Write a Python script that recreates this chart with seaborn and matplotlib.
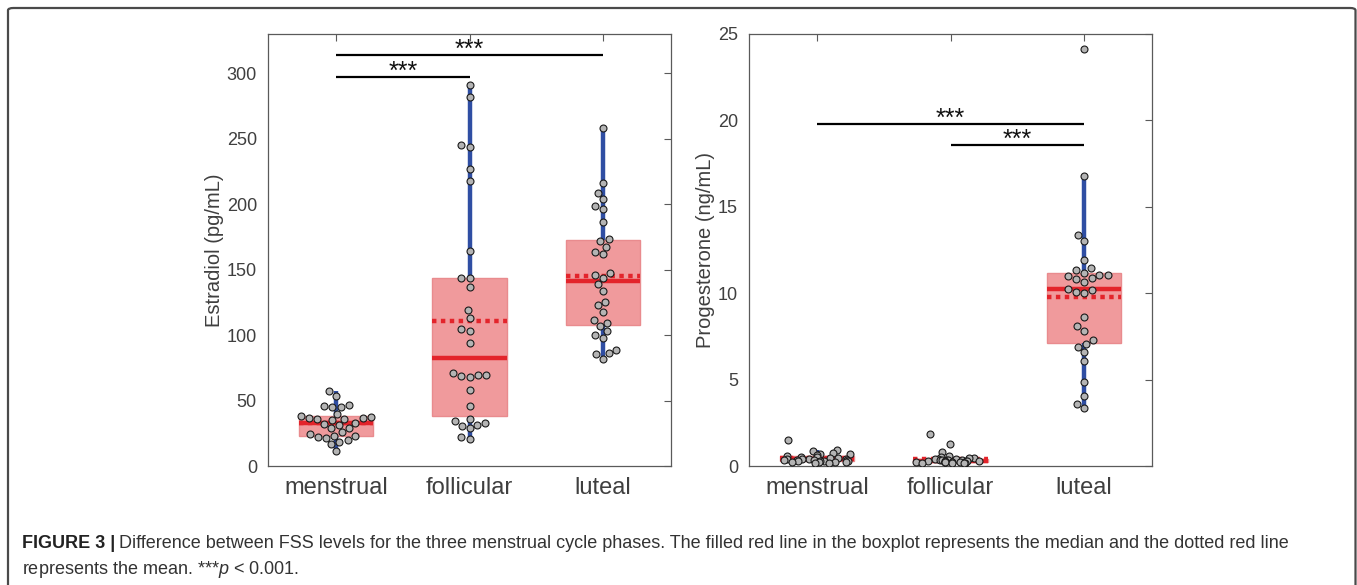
import numpy as np
import pandas as pd
import matplotlib
matplotlib.use('Agg')
import matplotlib.pyplot as plt
import seaborn as sns
from matplotlib.patches import FancyBboxPatch

phases = ['menstrual', 'follicular', 'luteal']

# estradiol (pg/mL)
estr_menstrual = [57.4, 53.6, 46.7, 46.2, 45.2, 44.9, 39.8, 38.1, 37.8, 36.5, 36.5, 36.0, 35.8, 34.8,
                  33.2, 31.8, 31.2, 29.4, 28.7, 25.6, 24.6, 23.3, 23.1, 22.1, 21.3, 20.0, 18.2, 16.5, 11.4]
estr_follicular = [291.3, 282.2, 244.9, 243.8, 226.8, 217.7, 164.3, 143.5, 143.5, 136.6, 118.8, 112.7,
                   104.6, 103.1, 93.7, 71.1, 69.9, 69.3, 68.8, 67.8, 57.9, 46.2, 35.8, 34.3, 32.5,
                   31.7, 30.9, 28.7, 22.1, 20.8]
estr_luteal = [258.3, 216.1, 208.5, 203.7, 198.9, 196.3, 186.7, 173.2, 172.2, 167.6, 163.6, 161.8,
               147.6, 145.8, 143.8, 138.7, 133.6, 125.2, 122.7, 117.9, 111.5, 109.5, 106.7, 103.3,
               99.8, 97.8, 88.6, 86.3, 85.3, 81.7]

# progesterone (ng/mL)
prog_menstrual = [1.50, 0.95, 0.85, 0.75, 0.70, 0.68, 0.62, 0.58, 0.55, 0.50, 0.48, 0.45, 0.42, 0.40,
                  0.40, 0.38, 0.36, 0.35, 0.33, 0.32, 0.30, 0.30, 0.28, 0.27, 0.25, 0.25, 0.23, 0.22,
                  0.20, 0.20]
prog_follicular = [1.83, 1.29, 0.81, 0.58, 0.52, 0.48, 0.45, 0.42, 0.40, 0.38, 0.36, 0.35, 0.34, 0.33,
                   0.32, 0.31, 0.30, 0.29, 0.28, 0.27, 0.26, 0.25, 0.24, 0.23, 0.22, 0.21, 0.20, 0.19,
                   0.18, 0.17]
prog_luteal = [24.14, 16.78, 13.35, 13.03, 11.95, 11.48, 11.33, 11.18, 11.06, 11.06, 11.02, 10.87,
               10.81, 10.67, 10.27, 10.17, 10.08, 10.00, 8.65, 8.11, 7.82, 7.30, 7.05, 6.88, 6.57,
               6.05, 4.86, 4.07, 3.60, 3.37]

# significance bars: (from, to, height)
estr_sig = [(0, 1, 297), (0, 2, 313.7)]
prog_sig = [(0, 2, 19.8), (1, 2, 18.55)]


def long_df(groups):
    rows = []
    for ph, vals in zip(phases, groups):
        rows += [(ph, v) for v in vals]
    return pd.DataFrame(rows, columns=['phase', 'value'])


df_e = long_df([estr_menstrual, estr_follicular, estr_luteal])
df_p = long_df([prog_menstrual, prog_follicular, prog_luteal])

sns.set_style('white')
plt.rcParams['font.family'] = ['Liberation Sans', 'DejaVu Sans']
plt.rcParams['mathtext.fontset'] = 'custom'
plt.rcParams['mathtext.it'] = 'Liberation Sans:italic'
plt.rcParams['mathtext.rm'] = 'Liberation Sans'

red = '#e3242b'
blue = '#2f4ea3'
box_fill = '#f09a9c'
axis_col = '#5a5a5a'
text_col = '#3f3f3f'
pt_kws = dict(size=5, color='#b4b4b4', edgecolor='#1a1a1a', linewidth=0.8, zorder=5)

fig = plt.figure(figsize=(13.57, 5.85), dpi=100)
ax1 = fig.add_axes([0.1975, 0.2034, 0.297, 0.7385])
ax2 = fig.add_axes([0.552, 0.2034, 0.297, 0.7385])


def panel(ax, df, ylim, yticks, ylabel, sig, star_off, crowded=()):
    sns.boxplot(data=df, x='phase', y='value', order=phases, ax=ax, width=0.56,
                showfliers=False, showcaps=False, showmeans=True, meanline=True,
                boxprops=dict(facecolor=box_fill, edgecolor='#e98b8e', linewidth=1),
                whiskerprops=dict(color=blue, linewidth=3.2),
                medianprops=dict(color=red, linewidth=3.2),
                meanprops=dict(color=red, linestyle=(0, (1, 1)), linewidth=3.2))
    loose = df[~df['phase'].isin(crowded)]
    sns.swarmplot(data=loose, x='phase', y='value', order=phases, ax=ax,
                  warn_thresh=1, **pt_kws)
    if crowded:
        # groups squeezed near zero: jittered instead of swarmed, like the original
        np.random.seed(7)
        sns.stripplot(data=df[df['phase'].isin(crowded)], x='phase', y='value',
                      order=phases, ax=ax, jitter=0.26, **pt_kws)
    for a, b, h in sig:
        ax.plot([a, b], [h, h], color='black', lw=1.6, solid_capstyle='butt', zorder=6)
        ax.text((a + b) / 2, h + star_off, '***', ha='center', va='center',
                fontsize=18, color='#111111')
    ax.set_xlim(-0.51, 2.51)
    ax.set_ylim(*ylim)
    ax.set_yticks(yticks)
    ax.set_xlabel('')
    ax.set_ylabel(ylabel, fontsize=14.5, color=text_col, labelpad=2)
    ax.tick_params(axis='both', direction='in', top=True, right=True, length=5,
                   width=0.8, color=axis_col)
    ax.tick_params(axis='y', labelsize=13, labelcolor=text_col, pad=8)
    ax.tick_params(axis='x', labelsize=17, labelcolor=text_col, pad=8)
    for s in ax.spines.values():
        s.set_visible(True)
        s.set_color(axis_col)
        s.set_linewidth(0.9)


panel(ax1, df_e, (0, 330), np.arange(0, 301, 50), 'Estradiol (pg/mL)', estr_sig, 4)
panel(ax2, df_p, (0, 25), np.arange(0, 26, 5), 'Progesterone (ng/mL)', prog_sig, 0.3,
      crowded=('menstrual', 'follicular'))

# caption
cap_y1 = 1 - 543 / 585
cap_y2 = 1 - 569 / 585
t_bold = fig.text(22 / 1357, cap_y1, 'FIGURE 3 |', fontsize=13, fontweight='bold',
                  color='#222222', va='center')
fig.canvas.draw()
bb = t_bold.get_window_extent()
fig.text((bb.x1 + 4) / 1357, cap_y1,
         'Difference between FSS levels for the three menstrual cycle phases. The filled red line '
         'in the boxplot represents the median and the dotted red line',
         fontsize=13, color='#333333', va='center')
fig.text(22 / 1357, cap_y2, 'represents the mean. ***$p$ < 0.001.', fontsize=13,
         color='#333333', va='center')

# frame around the figure
frame = FancyBboxPatch((8 / 1357, -0.05), 1347.5 / 1357, 1 - 8 / 585 + 0.05,
                       boxstyle='round,pad=0,rounding_size=0.004', transform=fig.transFigure,
                       facecolor='none', edgecolor='#4a4a4a', linewidth=1.6, clip_on=False)
fig.patches.append(frame)

fig.savefig('out.png', dpi=100)
